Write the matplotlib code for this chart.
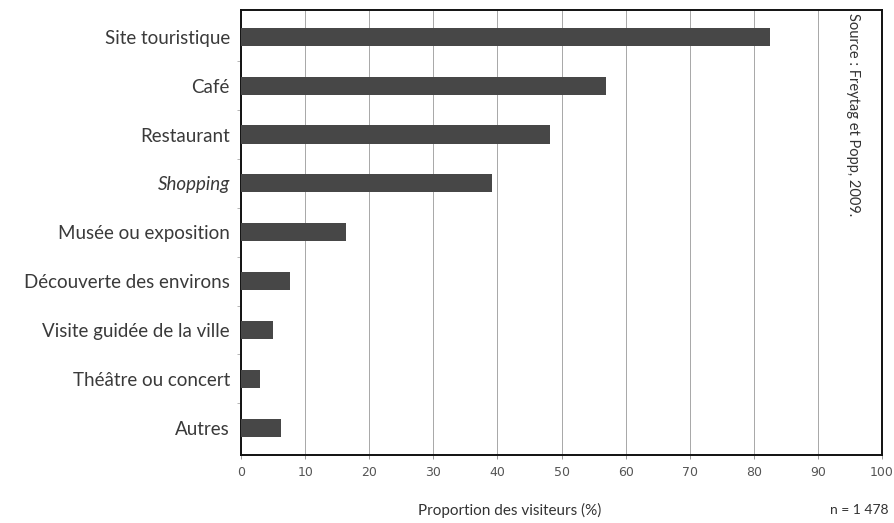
import numpy as np
import matplotlib.pyplot as plt

activites = ['Site touristique', 'Café', 'Restaurant', 'Shopping',
             'Musée ou exposition', 'Découverte des environs',
             'Visite guidée de la ville', 'Théâtre ou concert', 'Autres']
proportions = [82.5, 57.0, 48.2, 39.2, 16.4, 7.6, 5.0, 3.0, 6.2]
graduations = list(range(0, 101, 10))

plt.rcParams['font.family'] = ['Lato', 'DejaVu Sans']

fig = plt.figure(figsize=(8.94, 5.23), dpi=100)
ax = fig.add_axes([0.2696, 0.130, 0.9866 - 0.2696, 0.981 - 0.130])

y = np.arange(len(activites))
ax.barh(y, proportions, height=0.37, color='#474747', zorder=3)

ax.set_xlim(0, 100)
ax.set_ylim(len(activites) - 0.44, -0.55)
ax.set_xticks(graduations)
ax.set_xticklabels([str(g) for g in graduations],
                   family=['Liberation Sans Narrow', 'DejaVu Sans'],
                   fontsize=9, color='#555555')
ax.tick_params(axis='x', length=3, width=0.6, color='#888888', pad=5)
ax.grid(axis='x', color='#999999', linewidth=0.6, zorder=0)

ax.set_yticks(y)
ax.set_yticklabels(activites, fontsize=13.5, color='#3a3a3a')
ax.get_yticklabels()[3].set_style('italic')
ax.tick_params(axis='y', length=0, pad=8)
# petits traits entre les catégories
ax.set_yticks(np.arange(len(activites) - 1) + 0.5, minor=True)
ax.tick_params(axis='y', which='minor', length=3, width=0.6, color='#aaaaaa')

for s in ax.spines.values():
    s.set_color('#111111')
    s.set_linewidth(1.4)

ax.text(0.955, 0.993, 'Source : Freytag et Popp, 2009.', transform=ax.transAxes,
        rotation=-90, ha='center', va='top', fontsize=10.5, color='#333333')

fig.text(510 / 894, 1 - 510 / 523, 'Proportion des visiteurs (%)',
         ha='center', va='center', fontsize=11, color='#333333')
fig.text(859 / 894, 1 - 510 / 523, 'n = 1 478',
         ha='center', va='center', fontsize=10, color='#333333')

fig.savefig('out.png', dpi=100)
